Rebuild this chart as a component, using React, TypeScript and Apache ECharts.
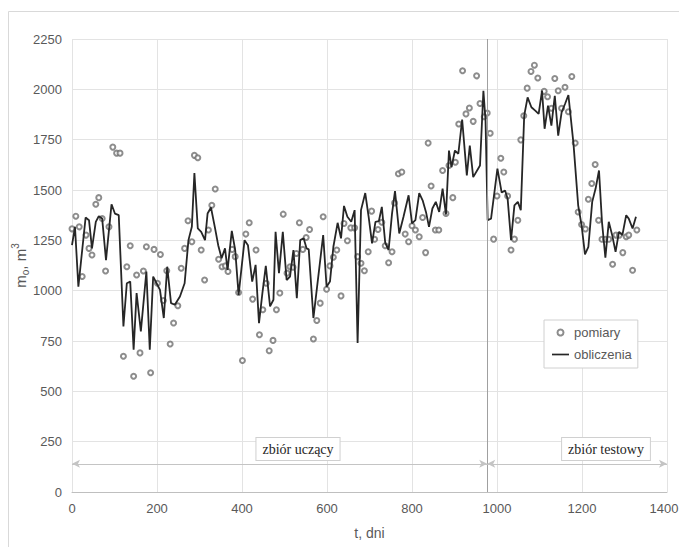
import React, { useEffect, useRef } from "react";
import * as echarts from "echarts";

// measured points [t (days), m_o (m3)]
const measured: number[][] = [
  [0, 1307], [9, 1370], [17, 1317], [24, 1070], [33, 1276], [40, 1210], [47, 1177], [56, 1429], [63, 1462], [71, 1358],
  [79, 1098], [87, 1317], [96, 1713], [105, 1683], [113, 1683], [121, 674], [129, 1119], [137, 1223], [145, 575], [152, 1078],
  [160, 691], [168, 1098], [175, 1218], [185, 592], [193, 1205], [201, 1037], [208, 1180], [215, 951], [223, 1099], [231, 735],
  [239, 839], [249, 925], [257, 1111], [265, 1210], [273, 1347], [282, 1243], [288, 1672], [296, 1660], [304, 1202], [312, 1053],
  [321, 1301], [329, 1424], [337, 1505], [345, 1156], [353, 1119], [361, 1123], [367, 1095], [377, 1205], [384, 1169], [392, 991],
  [401, 653], [409, 1281], [417, 1337], [425, 958], [433, 1202], [441, 781], [449, 905], [457, 1037], [464, 702], [473, 753],
  [481, 905], [489, 988], [497, 1380], [506, 1087], [513, 1119], [520, 1116], [528, 1185], [535, 1337], [543, 1205], [551, 1264],
  [559, 1304], [568, 760], [576, 852], [584, 938], [591, 1367], [599, 1007], [607, 1123], [615, 1166], [623, 1202], [633, 974],
  [640, 1334], [648, 1248], [656, 1312], [665, 1312], [672, 1169], [680, 1136], [688, 1099], [697, 1193], [705, 1395], [712, 1255],
  [720, 1304], [729, 1340], [737, 1223], [745, 1139], [753, 1193], [759, 1436], [768, 1581], [776, 1589], [784, 1281], [792, 1243],
  [800, 1322], [808, 1301], [817, 1268], [825, 1363], [832, 1189], [838, 1733], [845, 1520], [855, 1301], [863, 1301], [872, 1597],
  [880, 1383], [887, 1622], [896, 1462], [902, 1638], [910, 1828], [919, 2092], [927, 1878], [935, 1907], [944, 1841], [952, 2067],
  [960, 1930], [970, 1864], [977, 1882], [984, 1782], [992, 1256], [1000, 1470], [1009, 1658], [1016, 1589], [1025, 1470], [1033, 1202],
  [1041, 1256], [1049, 1350], [1056, 1749], [1063, 1869], [1071, 2006], [1080, 2089], [1088, 2120], [1096, 2056], [1111, 1990], [1119, 1963],
  [1128, 1906], [1136, 2054], [1144, 1993], [1152, 1906], [1160, 2010], [1168, 1889], [1176, 2064], [1184, 1733], [1191, 1391], [1199, 1329],
  [1208, 1306], [1215, 1454], [1223, 1532], [1231, 1627], [1239, 1350], [1247, 1255], [1255, 1255], [1263, 1255], [1272, 1131], [1280, 1276],
  [1288, 1276], [1296, 1189], [1304, 1268], [1310, 1276], [1319, 1101], [1329, 1301],
];

// calculated curve [t (days), m_o (m3)]
const calculated: number[][] = [
  [0, 1226], [7, 1317], [15, 1020], [32, 1363], [40, 1350], [47, 1210], [56, 1342], [63, 1370], [71, 1358], [80, 1152],
  [93, 1429], [101, 1383], [110, 1375], [121, 822], [129, 1037], [137, 1045], [145, 707], [152, 988], [162, 798], [175, 1095],
  [183, 707], [191, 1070], [199, 1037], [207, 1004], [216, 864], [224, 1119], [233, 938], [242, 930], [254, 971], [265, 1037],
  [274, 1251], [282, 1317], [288, 1584], [296, 1309], [304, 1292], [313, 1251], [319, 1383], [327, 1413], [336, 1317], [344, 1226],
  [352, 1161], [360, 1210], [366, 1103], [376, 1297], [384, 1202], [392, 979], [406, 1251], [414, 1226], [424, 1045], [432, 1128],
  [440, 839], [448, 988], [456, 1123], [466, 922], [474, 955], [479, 1292], [487, 1087], [496, 1292], [505, 1053], [513, 1070],
  [521, 1202], [529, 963], [537, 1251], [545, 1260], [552, 1210], [557, 1205], [568, 864], [591, 1276], [599, 1020], [607, 1045],
  [615, 1218], [625, 1337], [633, 1260], [640, 1421], [648, 1367], [657, 1342], [665, 1400], [672, 740], [680, 1400], [690, 1485],
  [698, 1367], [706, 1235], [714, 1342], [722, 1345], [729, 1416], [737, 1238], [745, 1202], [753, 1383], [760, 1495], [770, 1284],
  [780, 1367], [792, 1474], [800, 1334], [808, 1350], [817, 1485], [825, 1449], [833, 1390], [840, 1317], [848, 1408], [856, 1441],
  [864, 1391], [872, 1507], [880, 1378], [887, 1696], [893, 1614], [901, 1696], [909, 1680], [918, 1850], [929, 1573], [936, 1721],
  [944, 1564], [960, 1622], [968, 1993], [973, 1845], [978, 1350], [986, 1358], [1001, 1606], [1011, 1487], [1019, 1498], [1025, 1457],
  [1033, 1251], [1041, 1424], [1049, 1441], [1056, 1400], [1064, 1869], [1072, 1960], [1081, 1911], [1090, 1894], [1098, 1878], [1106, 1993],
  [1112, 1804], [1120, 1919], [1128, 1820], [1136, 1968], [1144, 1770], [1152, 1886], [1160, 1927], [1168, 1972], [1180, 1729], [1191, 1424],
  [1199, 1325], [1207, 1180], [1215, 1218], [1224, 1441], [1232, 1507], [1240, 1597], [1247, 1342], [1255, 1164], [1263, 1342], [1271, 1276],
  [1279, 1193], [1287, 1292], [1295, 1276], [1304, 1375], [1310, 1358], [1319, 1309], [1327, 1367],
];

const seriesNames = ["pomiary", "obliczenia"];
const splitDay = 977;
const arrowLevel = 140;
const xMax = 1400;
const regionLabels = ["zbiór uczący", "zbiór testowy"];

const SANS = "'Liberation Sans', Arial, sans-serif";
const SERIF = "'Liberation Serif', 'DejaVu Serif', serif";

export default function App() {
  const ref = useRef<HTMLDivElement>(null);
  useEffect(() => {
    if (!ref.current) return;
    const chart = echarts.init(ref.current, undefined, { renderer: "svg" });
    const labelBox = (text: string, x: number) => ({
      type: "text",
      x,
      y: 449,
      z: 100,
      style: {
        text,
        align: "center",
        verticalAlign: "middle",
        fontFamily: SERIF,
        fontSize: 14,
        fill: "#262626",
        backgroundColor: "#ffffff",
        borderColor: "#d0d0d0",
        borderWidth: 1,
        padding: [4, 6, 4, 6],
      },
    });
    chart.setOption({
      animation: false,
      backgroundColor: "#ffffff",
      grid: { left: 72, right: 12, top: 39, bottom: 55, containLabel: false, outerBoundsMode: "none" },
      legend: {
        orient: "vertical",
        left: 544,
        top: 320,
        data: [
          { name: seriesNames[0], icon: "emptyCircle" },
          { name: seriesNames[1], icon: "path://M0 0H20V2H0Z" },
        ],
        itemWidth: 17,
        itemHeight: 6,
        itemGap: 9,
        padding: [6, 6, 7, 8],
        backgroundColor: "#ffffff",
        borderColor: "#d0d0d0",
        borderWidth: 1,
        textStyle: { fontFamily: SANS, fontSize: 13, color: "#595959" },
      },
      xAxis: {
        type: "value",
        min: 0,
        max: xMax,
        interval: 200,
        name: "t, dni",
        nameLocation: "middle",
        nameGap: 34,
        nameMoveOverlap: false,
        nameTextStyle: { fontFamily: SANS, fontSize: 14, color: "#595959" },
        axisLine: { show: true, lineStyle: { color: "#bfbfbf" } },
        axisTick: { show: false },
        axisLabel: {
          fontFamily: SANS,
          fontSize: 13,
          color: "#595959",
          margin: 10,
          formatter: (v: number) => (v === xMax ? "{r|" + v + "}" : String(v)),
          rich: { r: { fontFamily: SANS, fontSize: 13, color: "#595959", padding: [0, 6, 0, 0] } },
        },
        splitLine: { show: true, lineStyle: { color: "#e3e3e3", width: 1 } },
      },
      yAxis: {
        type: "value",
        min: 0,
        max: 2250,
        interval: 250,
        name: "{m|m}{s|o}{m|, m}{p|3}",
        nameLocation: "middle",
        nameGap: 42,
        nameRotate: 90,
        nameMoveOverlap: false,
        nameTextStyle: {
          color: "#595959",
          rich: {
            m: { fontFamily: SANS, fontSize: 15, color: "#595959", lineHeight: 20, verticalAlign: "middle" },
            s: { fontFamily: SANS, fontSize: 10, color: "#595959", lineHeight: 10, verticalAlign: "bottom" },
            p: { fontFamily: SANS, fontSize: 10, color: "#595959", lineHeight: 10, verticalAlign: "top" },
          },
        },
        axisLine: { show: false },
        axisTick: { show: false },
        axisLabel: { fontFamily: SANS, fontSize: 13, color: "#595959", margin: 10, formatter: (v: number) => String(v) },
        splitLine: { show: true, lineStyle: { color: "#e3e3e3", width: 1 } },
      },
      series: [
        {
          name: seriesNames[0],
          type: "scatter",
          data: measured,
          symbol: "emptyCircle",
          symbolSize: 5,
          itemStyle: { color: "#707070", borderWidth: 1 },
          z: 2,
          markLine: {
            silent: true,
            symbol: "none",
            label: { show: false },
            lineStyle: { color: "#a0a0a0", width: 1, type: "solid" },
            data: [{ xAxis: splitDay }],
          },
        },
        {
          name: seriesNames[1],
          type: "line",
          data: calculated,
          symbol: "none",
          lineStyle: { color: "#262626", width: 1.8 },
          itemStyle: { color: "#262626" },
          z: 3,
          markLine: {
            silent: true,
            symbol: ["arrow", "arrow"],
            symbolSize: [6, 8],
            label: { show: false },
            lineStyle: { color: "#c4c4c4", width: 1, type: "solid" },
            data: [
              [{ coord: [0, arrowLevel] }, { coord: [splitDay, arrowLevel] }],
              [{ coord: [splitDay, arrowLevel] }, { coord: [xMax, arrowLevel] }],
            ],
          },
        },
      ],
      graphic: [
        {
          type: "rect",
          shape: { x: 8.5, y: 11.5, width: 700, height: 700 },
          style: { fill: "none", stroke: "#d9d9d9", lineWidth: 1 },
          silent: true,
        },
        labelBox(regionLabels[0], 298),
        labelBox(regionLabels[1], 606),
      ],
    });
    return () => chart.dispose();
  }, []);
  return (
    <div
      ref={ref}
      style={{ position: "absolute", left: 0, top: 0, width: 679, height: 547 }}
    />
  );
}
